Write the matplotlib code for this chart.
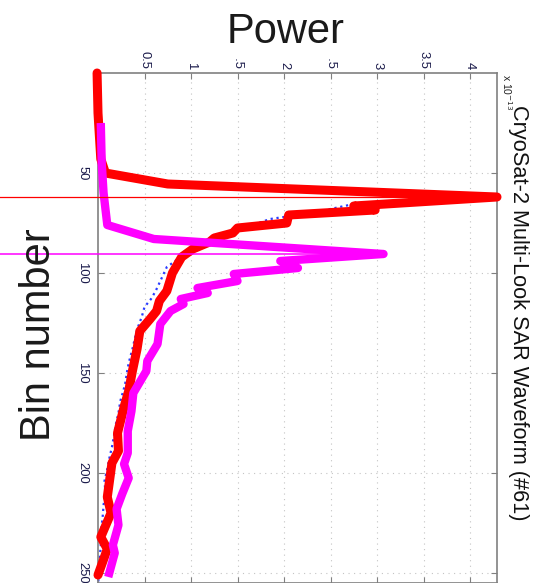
import matplotlib
matplotlib.use("Agg")
import matplotlib.pyplot as plt
import numpy as np

plt.rcParams['font.family'] = ['Liberation Sans', 'DejaVu Sans']

# ---------------- data (power in units of 1e-13) ----------------
red_bins = [0, 20, 43, 50, 55.5, 62, 66.5, 68.5, 71, 75, 77.5, 80, 82.5, 84.5, 88,
            92, 100, 109, 114, 119, 123, 129, 138, 149, 159, 167, 180, 189, 195,
            212, 220, 232, 238, 251]
red_power = [-0.01, 0.0, 0.03, 0.08, 0.75, 4.29, 2.75, 2.98, 2.05, 2.03, 1.5, 1.45,
             1.25, 1.2, 1.02, 0.9, 0.8, 0.74, 0.66, 0.63, 0.56, 0.45, 0.42, 0.37,
             0.33, 0.28, 0.21, 0.22, 0.15, 0.1, 0.14, 0.03, 0.1, 0.0]

mag_bins = [25, 45, 60, 76, 83, 90.5, 94, 97.5, 100.5, 104, 107.5, 110, 113, 115.5,
            119, 125.5, 135.5, 144, 149, 160, 169, 179, 190, 195.5, 202.5, 210.5,
            218, 226, 236, 240, 252]
mag_power = [0.03, 0.04, 0.06, 0.1, 0.6, 3.07, 1.96, 2.15, 1.46, 1.5, 1.07, 1.18,
             0.89, 0.92, 0.78, 0.67, 0.64, 0.53, 0.52, 0.38, 0.36, 0.32, 0.32, 0.28,
             0.33, 0.26, 0.2, 0.22, 0.16, 0.18, 0.11]

blue_bins = [0, 10, 20, 30, 40, 45, 50, 53, 56, 59, 62, 66, 70, 73, 77, 80, 84, 89,
             93, 97, 103, 109, 113, 117, 122, 127, 132, 138, 145, 150, 156, 164, 170,
             176, 182, 187, 193, 198, 204, 210, 216, 222, 230, 236, 242, 247, 252, 255]
blue_power = [0.01, 0.01, 0.02, 0.02, 0.03, 0.04, 0.07, 0.3, 0.9, 2.5, 4.25, 2.7,
              2.3, 1.85, 1.6, 1.42, 1.32, 0.97, 0.86, 0.74, 0.68, 0.62, 0.57, 0.5,
              0.47, 0.43, 0.4, 0.37, 0.33, 0.31, 0.29, 0.24, 0.22, 0.19, 0.17, 0.15,
              0.12, 0.1, 0.07, 0.08, 0.06, 0.05, 0.03, 0.03, 0.02, 0.02, 0.01, 0.0]

power_ticks = [0.5, 1, 1.5, 2, 2.5, 3, 3.5, 4]
power_ticklabels = ['0.5', '1', '1.5', '2', '2.5', '3', '3.5', '4']
bin_ticks = [50, 100, 150, 200, 250]
bin_ticklabels = ['50', '100', '150', '200', '250']

title_text = 'CryoSat-2 Multi-Look SAR Waveform (#61)'
exp_text = r'x 10$^{-13}$'
power_label = 'Power'
bin_label = 'Bin number'

# ---------------- figure ----------------
W, H = 537, 583
fig = plt.figure(figsize=(W / 100, H / 100), dpi=100)
ax = fig.add_axes([98 / W, 0 / H, (497 - 98) / W, (583 - 73) / H])

ax.plot(blue_power, blue_bins, color='#2a3cff', lw=1.6, ls=':', zorder=2, clip_on=False)
ax.plot(red_power, red_bins, color='#ff0000', lw=6.5, zorder=3, clip_on=False,
        solid_capstyle='round', solid_joinstyle='round')
ax.plot(mag_power, mag_bins, color='#ff00ff', lw=6.0, zorder=4, clip_on=False,
        solid_capstyle='butt', solid_joinstyle='round')

ax.set_ylim(255, 0)
ax.set_xlim(0, max(red_power))

# thin annotation lines at the peaks, from figure left edge to the peak
x_left = ax.transData.inverted().transform(fig.transFigure.transform((0, 0)))[0]
ir = int(np.argmax(red_power))
im = int(np.argmax(mag_power))
ax.plot([x_left, red_power[ir]], [red_bins[ir], red_bins[ir]], color='#ff0000',
        lw=0.9, zorder=6, clip_on=False)
ax.plot([x_left, mag_power[im]], [mag_bins[im], mag_bins[im]], color='#ff00ff',
        lw=1.1, zorder=6, clip_on=False)

# ticks
tick_color = '#1a1a4a'
ax.xaxis.tick_top()
ax.set_xticks(power_ticks)
ax.set_xticklabels(power_ticklabels, rotation=-90, fontsize=9.4, color=tick_color)
ax.set_yticks(bin_ticks)
ax.set_yticklabels(bin_ticklabels, rotation=-90, fontsize=9.4, color=tick_color,
                   va='center')
ax.tick_params(axis='x', which='both', direction='in', length=4, top=True,
               bottom=True, color='#808080', pad=3)
ax.tick_params(axis='y', which='both', direction='in', length=4, left=True,
               right=True, color='#808080', pad=7)

ax.grid(True, color='#c4c4c4', lw=0.8, ls=(0, (1, 4)))
for s in ax.spines.values():
    s.set_color('#808080')
    s.set_linewidth(1.2)

# texts
fig.text(507 / W, 1 - 74 / H, exp_text, rotation=-90, fontsize=7.5,
         ha='center', va='top', color='#222222')
fig.text(518 / W, 1 - 313 / H, title_text, rotation=-90, fontsize=15.7,
         ha='center', va='center', color='#111111')
fig.text(286 / W, 1 - 43 / H, power_label, fontsize=30, ha='center',
         va='baseline', color='#1a1a1a',
         bbox=dict(facecolor='white', edgecolor='none', pad=5), zorder=10)
fig.text(39 / W, 1 - 335 / H, bin_label, fontsize=30, rotation=90, ha='center',
         va='center', color='#1a1a1a')

fig.savefig('out.png', dpi=100)
